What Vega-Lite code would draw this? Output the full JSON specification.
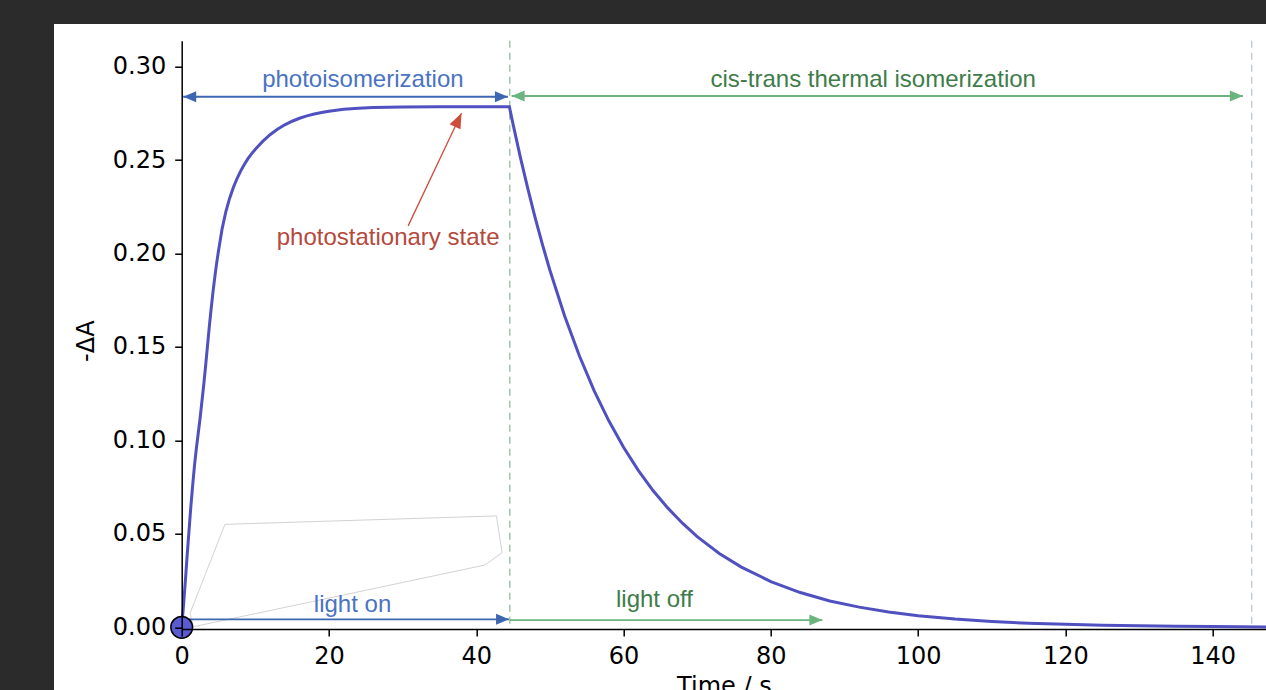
{
  "$schema": "https://vega.github.io/schema/vega-lite/v6.json",
  "autosize": {"type": "none"},
  "padding": {"left": 181.7, "top": 40.7, "right": 0, "bottom": 61},
  "width": 1084.3,
  "height": 588.3,
  "background": "#2b2b2b",
  "config": {"view": {"stroke": null}},
  "datasets": {
    "panel": [
      {"x1": -17.34, "x2": 170, "y1": 0.32285, "y2": -0.06}
    ],
    "marker": [
      {"t": 0, "dA": 0}
    ],
    "lightswitch": [
      {"t": 44.55}
    ],
    "endmark": [
      {"t": 145.3}
    ],
    "curve": [
      {"t": 0, "dA": 0}, {"t": 0.25, "dA": 0.012}, {"t": 0.5, "dA": 0.025}, {"t": 0.75, "dA": 0.039},
      {"t": 1.0, "dA": 0.052}, {"t": 1.25, "dA": 0.065}, {"t": 1.5, "dA": 0.0765}, {"t": 1.75, "dA": 0.087},
      {"t": 2.0, "dA": 0.096}, {"t": 2.25, "dA": 0.104}, {"t": 2.5, "dA": 0.112}, {"t": 2.75, "dA": 0.121},
      {"t": 3.0, "dA": 0.130}, {"t": 3.25, "dA": 0.140}, {"t": 3.5, "dA": 0.1505}, {"t": 3.75, "dA": 0.161},
      {"t": 4.0, "dA": 0.1705}, {"t": 4.25, "dA": 0.1795}, {"t": 4.5, "dA": 0.1875}, {"t": 4.75, "dA": 0.195},
      {"t": 5.0, "dA": 0.2015}, {"t": 5.5, "dA": 0.2135}, {"t": 6.0, "dA": 0.2225}, {"t": 6.5, "dA": 0.2295},
      {"t": 7.0, "dA": 0.2352}, {"t": 7.5, "dA": 0.2400}, {"t": 8.0, "dA": 0.2441}, {"t": 8.5, "dA": 0.2477},
      {"t": 9.0, "dA": 0.2508}, {"t": 9.5, "dA": 0.2535}, {"t": 10.0, "dA": 0.2558}, {"t": 11, "dA": 0.2600},
      {"t": 12, "dA": 0.2636}, {"t": 13, "dA": 0.2665}, {"t": 14, "dA": 0.2689}, {"t": 15, "dA": 0.2708},
      {"t": 16, "dA": 0.2724}, {"t": 17, "dA": 0.2737}, {"t": 18, "dA": 0.2747}, {"t": 19, "dA": 0.2755},
      {"t": 20, "dA": 0.2762}, {"t": 22, "dA": 0.2772}, {"t": 24, "dA": 0.2778}, {"t": 26, "dA": 0.2781},
      {"t": 30, "dA": 0.2784}, {"t": 35, "dA": 0.2785}, {"t": 44.5, "dA": 0.2785},
      {"t": 45, "dA": 0.2691}, {"t": 46, "dA": 0.2513}, {"t": 47, "dA": 0.2347}, {"t": 48, "dA": 0.2191},
      {"t": 49, "dA": 0.2046}, {"t": 50, "dA": 0.1911}, {"t": 52, "dA": 0.1666}, {"t": 54, "dA": 0.1453},
      {"t": 56, "dA": 0.1267}, {"t": 58, "dA": 0.1105}, {"t": 60, "dA": 0.0963}, {"t": 62, "dA": 0.0840},
      {"t": 64, "dA": 0.0732}, {"t": 66, "dA": 0.0639}, {"t": 68, "dA": 0.0557}, {"t": 70, "dA": 0.0485},
      {"t": 73, "dA": 0.0395}, {"t": 76, "dA": 0.0322}, {"t": 80, "dA": 0.0245}, {"t": 84, "dA": 0.0186},
      {"t": 88, "dA": 0.0141}, {"t": 92, "dA": 0.0108}, {"t": 96, "dA": 0.0082}, {"t": 100, "dA": 0.0062},
      {"t": 105, "dA": 0.0044}, {"t": 110, "dA": 0.0031}, {"t": 115, "dA": 0.0022}, {"t": 120, "dA": 0.0016},
      {"t": 125, "dA": 0.0011}, {"t": 130, "dA": 0.0008}, {"t": 135, "dA": 0.0006}, {"t": 140, "dA": 0.0004},
      {"t": 147.3, "dA": 0.0002}
    ],
    "outline": [
      {"t": 5.87, "dA": 0.0551, "k": 1}, {"t": 42.74, "dA": 0.0596, "k": 2}, {"t": 43.5, "dA": 0.0399, "k": 3},
      {"t": 41.15, "dA": 0.0333, "k": 4}, {"t": 1.58, "dA": 0.0003, "k": 5}, {"t": 1.13, "dA": 0.0075, "k": 6},
      {"t": 5.87, "dA": 0.0551, "k": 7}
    ],
    "spans": [
      {"x": 0.2, "x2": 44.3, "y": 0.2839, "k": "on"},
      {"x": 44.8, "x2": 144.1, "y": 0.2843, "k": "off"},
      {"x": 0, "x2": 44.45, "y": 0.0043, "k": "on"},
      {"x": 44.55, "x2": 87.0, "y": 0.0039, "k": "off"}
    ],
    "heads": [
      {"x": 0.2, "y": 0.2839, "ang": 180, "k": "on"},
      {"x": 44.3, "y": 0.2839, "ang": 0, "k": "on"},
      {"x": 44.8, "y": 0.2843, "ang": 180, "k": "off"},
      {"x": 144.1, "y": 0.2843, "ang": 0, "k": "off"},
      {"x": 44.45, "y": 0.0043, "ang": 0, "k": "on"},
      {"x": 87.0, "y": 0.0039, "ang": 0, "k": "off"}
    ],
    "pointer": [
      {"x": 30.75, "y": 0.2148, "x2": 37.99, "y2": 0.2751, "ang": 295.35, "k": "state"}
    ],
    "labels": [
      {"text": "photoisomerization", "x": 24.6, "y": 0.2893, "k": "on_t"},
      {"text": "cis-trans thermal isomerization", "x": 93.9, "y": 0.2893, "k": "off_t"},
      {"text": "photostationary state", "x": 28.03, "y": 0.2046, "k": "state_t"},
      {"text": "light on", "x": 23.2, "y": 0.0083, "k": "on_t"},
      {"text": "light off", "x": 64.2, "y": 0.0109, "k": "off_t"}
    ]
  },
  "layer": [
    {
      "data": {"name": "panel"},
      "mark": {"type": "rect", "fill": "#ffffff", "fillOpacity": 1, "strokeWidth": 0, "clip": false},
      "encoding": {
        "x": {
          "field": "x1", "type": "quantitative",
          "scale": {"domain": [0, 147.24], "nice": false, "zero": false},
          "axis": {
            "title": "Time / s", "values": [0, 20, 40, 60, 80, 100, 120, 140], "grid": false,
            "domainColor": "black", "domainWidth": 1.5, "tickColor": "black", "tickWidth": 1.5, "tickSize": 7,
            "labelFont": "DejaVu Sans", "labelFontSize": 24, "labelColor": "black", "labelPadding": 8,
            "labelFlush": false, "labelOverlap": false,
            "titleFont": "DejaVu Sans", "titleFontSize": 24, "titleFontWeight": "normal", "titleColor": "black",
            "titlePadding": 6, "zindex": 1
          }
        },
        "x2": {"field": "x2"},
        "y": {
          "field": "y1", "type": "quantitative",
          "scale": {"domain": [-0.0009, 0.3139], "nice": false, "zero": false},
          "axis": {
            "title": "-ΔA", "values": [0, 0.05, 0.1, 0.15, 0.2, 0.25, 0.3], "format": ".2f", "grid": false,
            "domainColor": "black", "domainWidth": 1.5, "tickColor": "black", "tickWidth": 1.5, "tickSize": 7,
            "labelFont": "DejaVu Sans", "labelFontSize": 24, "labelColor": "black", "labelPadding": 9,
            "labelFlush": false, "labelOverlap": false,
            "titleFont": "DejaVu Sans", "titleFontSize": 24, "titleFontWeight": "normal", "titleColor": "black",
            "titlePadding": 14, "titleY": 300, "zindex": 1
          }
        },
        "y2": {"field": "y2"}
      }
    },
    {
      "mark": {"type": "rule", "color": "black", "strokeWidth": 1.5, "clip": false},
      "encoding": {"x": {"datum": 0}, "x2": {"datum": 147.24}, "y": {"datum": 0.3139}}
    },
    {
      "data": {"name": "outline"},
      "mark": {"type": "line", "color": "#d2d2d2", "strokeWidth": 1},
      "encoding": {
        "x": {"field": "t", "type": "quantitative"},
        "y": {"field": "dA", "type": "quantitative"},
        "order": {"field": "k", "type": "quantitative"}
      }
    },
    {
      "data": {"name": "lightswitch"},
      "mark": {"type": "rule", "color": "#95bb9c", "strokeWidth": 1.3, "strokeDash": [7, 5]},
      "encoding": {"x": {"field": "t", "type": "quantitative"}}
    },
    {
      "data": {"name": "endmark"},
      "mark": {"type": "rule", "color": "#b8c8d2", "strokeWidth": 1.3, "strokeDash": [7, 5]},
      "encoding": {"x": {"field": "t", "type": "quantitative"}}
    },
    {
      "data": {"name": "curve"},
      "mark": {"type": "line", "color": "#5050c0", "strokeWidth": 3, "interpolate": "linear"},
      "encoding": {
        "x": {"field": "t", "type": "quantitative"},
        "y": {"field": "dA", "type": "quantitative"}
      }
    },
    {
      "data": {"name": "spans"},
      "mark": {"type": "rule", "strokeWidth": 1.8},
      "encoding": {
        "x": {"field": "x", "type": "quantitative"},
        "x2": {"field": "x2"},
        "y": {"field": "y", "type": "quantitative"},
        "color": {
          "field": "k", "type": "nominal", "legend": null,
          "scale": {
            "domain": ["on", "off", "state", "on_t", "off_t", "state_t"],
            "range": ["#3d67b1", "#6cb47e", "#cf4b3c", "#4a73c3", "#3e7c4a", "#b4493d"]
          }
        }
      }
    },
    {
      "data": {"name": "heads"},
      "mark": {"type": "point", "shape": "M0,0L-2,-0.85L-2,0.85Z", "filled": true, "size": 169, "opacity": 1, "clip": false},
      "encoding": {
        "x": {"field": "x", "type": "quantitative"},
        "y": {"field": "y", "type": "quantitative"},
        "angle": {"field": "ang", "type": "quantitative", "scale": null},
        "color": {"field": "k", "type": "nominal", "legend": null}
      }
    },
    {
      "data": {"name": "pointer"},
      "mark": {"type": "rule", "strokeWidth": 1.3},
      "encoding": {
        "x": {"field": "x", "type": "quantitative"},
        "x2": {"field": "x2"},
        "y": {"field": "y", "type": "quantitative"},
        "y2": {"field": "y2"},
        "color": {"field": "k", "type": "nominal", "legend": null}
      }
    },
    {
      "data": {"name": "pointer"},
      "mark": {"type": "point", "shape": "M0,0L-2,-0.8L-2,0.8Z", "filled": true, "size": 225, "opacity": 1},
      "encoding": {
        "x": {"field": "x2", "type": "quantitative"},
        "y": {"field": "y2", "type": "quantitative"},
        "angle": {"field": "ang", "type": "quantitative", "scale": null},
        "color": {"field": "k", "type": "nominal", "legend": null}
      }
    },
    {
      "data": {"name": "labels"},
      "mark": {"type": "text", "font": "Liberation Sans", "fontSize": 24, "align": "center", "baseline": "alphabetic"},
      "encoding": {
        "x": {"field": "x", "type": "quantitative"},
        "y": {"field": "y", "type": "quantitative"},
        "text": {"field": "text"},
        "color": {"field": "k", "type": "nominal", "legend": null}
      }
    },
    {
      "data": {"name": "marker"},
      "mark": {"type": "point", "shape": "circle", "filled": true, "size": 470, "fill": "#5a5ad2", "stroke": "#000000", "strokeWidth": 1.5, "opacity": 1, "fillOpacity": 1, "clip": false},
      "encoding": {
        "x": {"field": "t", "type": "quantitative"},
        "y": {"field": "dA", "type": "quantitative"}
      }
    }
  ]
}
